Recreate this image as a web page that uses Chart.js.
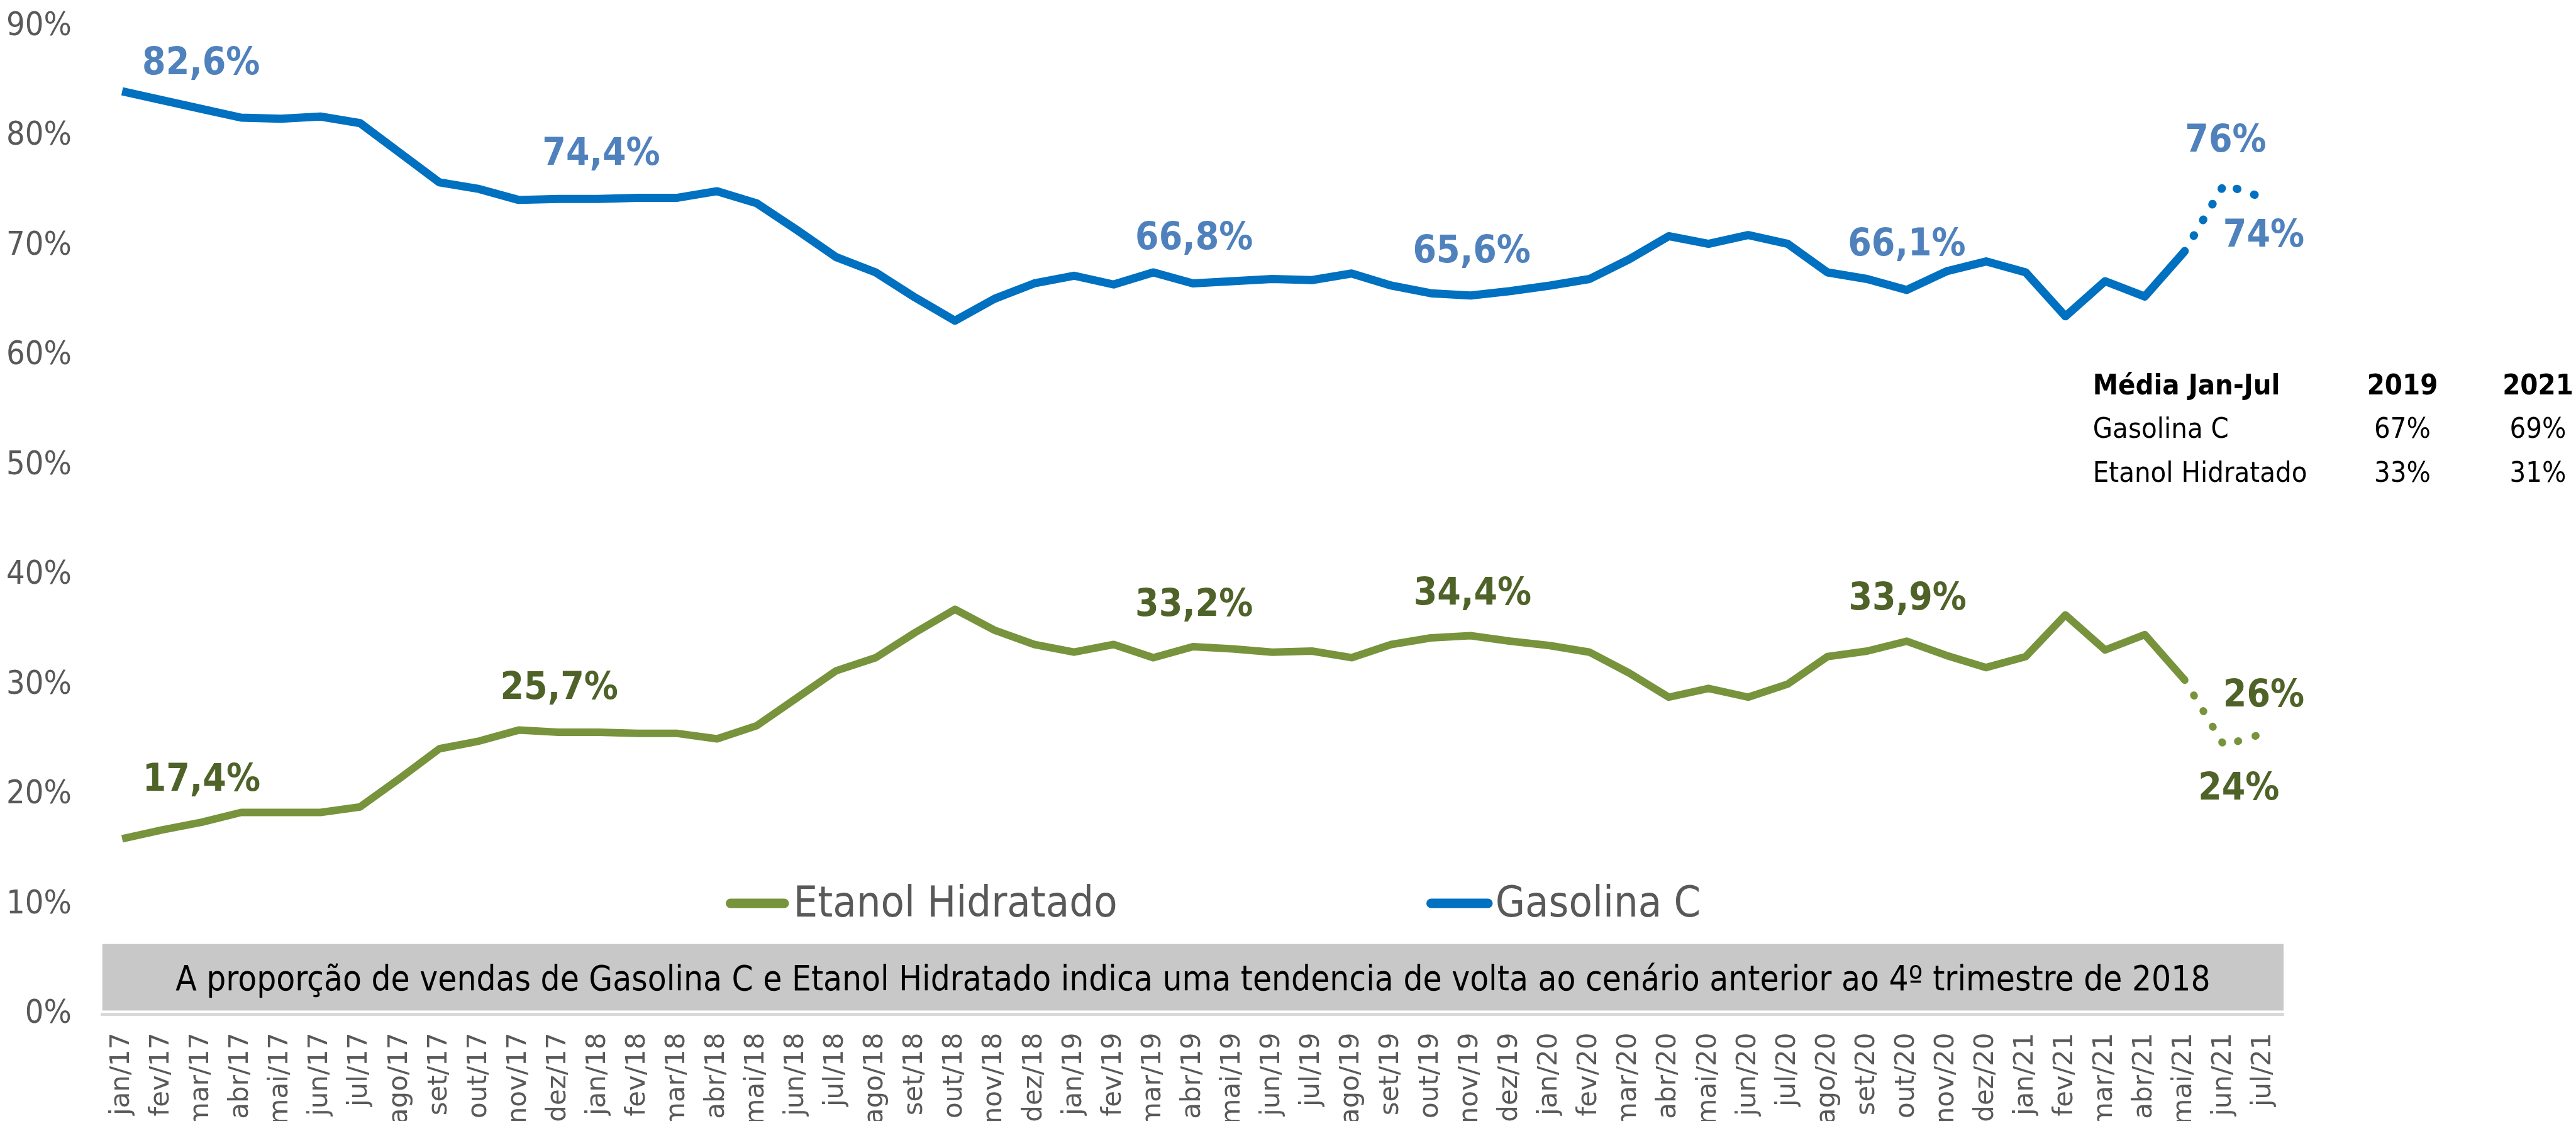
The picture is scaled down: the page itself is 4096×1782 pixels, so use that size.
<!DOCTYPE html>
<html lang="pt-BR">
<head>
<meta charset="utf-8">
<title>Gasolina C x Etanol Hidratado</title>
<script src="https://cdn.jsdelivr.net/npm/chart.js@4.4.1/dist/chart.umd.min.js"></script>
<style>
  html, body { margin: 0; padding: 0; background: #fff; overflow: hidden; }
  #grafico { display: block; }
</style>
</head>
<body>
<canvas id="grafico" width="4096" height="1782"></canvas>
<script>
// dados (participação nas vendas, %)
const meses = [
  'jan/17', 'fev/17', 'mar/17', 'abr/17', 'mai/17', 'jun/17', 'jul/17', 'ago/17', 'set/17', 'out/17', 'nov/17', 'dez/17',
  'jan/18', 'fev/18', 'mar/18', 'abr/18', 'mai/18', 'jun/18', 'jul/18', 'ago/18', 'set/18', 'out/18', 'nov/18', 'dez/18',
  'jan/19', 'fev/19', 'mar/19', 'abr/19', 'mai/19', 'jun/19', 'jul/19', 'ago/19', 'set/19', 'out/19', 'nov/19', 'dez/19',
  'jan/20', 'fev/20', 'mar/20', 'abr/20', 'mai/20', 'jun/20', 'jul/20', 'ago/20', 'set/20', 'out/20', 'nov/20', 'dez/20',
  'jan/21', 'fev/21', 'mar/21', 'abr/21', 'mai/21', 'jun/21', 'jul/21'
];
const gasolina = [
  84.1, 83.3, 82.5, 81.7, 81.6, 81.8, 81.2, 78.5, 75.8, 75.2, 74.2, 74.3,
  74.3, 74.4, 74.4, 75.0, 73.9, 71.5, 69.0, 67.6, 65.3, 63.2, 65.2, 66.6,
  67.3, 66.5, 67.6, 66.6, 66.8, 67.0, 66.9, 67.5, 66.4, 65.7, 65.5, 65.9,
  66.4, 67.0, 68.8, 70.9, 70.2, 71.0, 70.2, 67.6, 67.0, 66.0, 67.7, 68.6,
  67.6, 63.6, 66.8, 65.4, 69.5, 75.6, 74.4
];
const etanol = [
  16.0, 16.8, 17.5, 18.4, 18.4, 18.4, 18.9, 21.5, 24.2, 24.9, 25.9, 25.7,
  25.7, 25.6, 25.6, 25.1, 26.3, 28.8, 31.3, 32.5, 34.8, 36.9, 35.0, 33.7,
  33.0, 33.7, 32.5, 33.5, 33.3, 33.0, 33.1, 32.5, 33.7, 34.3, 34.5, 34.0,
  33.6, 33.0, 31.1, 28.9, 29.7, 28.9, 30.1, 32.6, 33.1, 34.0, 32.7, 31.6,
  32.6, 36.4, 33.2, 34.6, 30.5, 24.5, 25.6
];
const inicioProjecao = 52; // a partir de mai/21 a linha fica pontilhada

const rotulosGas = ['82,6%', '74,4%', '66,8%', '65,6%', '66,1%', '76%', '74%'];
const rotulosEta = ['17,4%', '25,7%', '33,2%', '34,4%', '33,9%', '26%', '24%'];

const tabelaTitulo = 'Média Jan-Jul';
const tabelaAnos = ['2019', '2021'];
const tabelaLinhas = ['Gasolina C', 'Etanol Hidratado'];
const media2019 = ['67%', '33%'];
const media2021 = ['69%', '31%'];

const nota = 'A proporção de vendas de Gasolina C e Etanol Hidratado indica uma tendencia de volta ao cenário anterior ao 4º trimestre de 2018';

// onde cada rótulo fica (índice do mês, valor no eixo)
const ancoraGas = [[1.99, 86.9], [12.08, 78.65], [27.03, 71.0], [34.03, 69.8], [45.0, 70.4], [53.04, 79.85], [54.0, 71.2]];
const ancoraEta = [[2.0, 21.6], [11.02, 30.0], [27.03, 37.55], [34.05, 38.6], [45.02, 38.15], [54.0, 29.3], [53.37, 20.8]];

const NARROW = "'Liberation Sans Narrow', 'Arial Narrow', 'DejaVu Sans Condensed', sans-serif";
const COND = "'DejaVu Sans Condensed', 'DejaVu Sans', sans-serif";
const AZUL = '#0070C0', VERDE = '#77933C';
const CINZA = '#595959';

function pontilhado() {
  return {
    borderDash: ctx => ctx.p0DataIndex >= inicioProjecao ? [1, 28] : undefined,
    borderCapStyle: ctx => ctx.p0DataIndex >= inicioProjecao ? 'round' : 'butt'
  };
}

const rotulos = {
  id: 'rotulos',
  afterDatasetsDraw(chart) {
    const { ctx, scales: { x, y } } = chart;
    const tam = 60;
    ctx.save();
    ctx.font = `bold ${tam}px ${COND}`;
    ctx.textAlign = 'center';
    ctx.textBaseline = 'alphabetic';
    const meio = tam * 0.729 / 2;
    ctx.fillStyle = '#4F81BD';
    rotulosGas.forEach((t, i) => {
      ctx.fillText(t, x.getPixelForValue(ancoraGas[i][0]), y.getPixelForValue(ancoraGas[i][1]) + meio);
    });
    ctx.fillStyle = '#4F6228';
    rotulosEta.forEach((t, i) => {
      ctx.fillText(t, x.getPixelForValue(ancoraEta[i][0]), y.getPixelForValue(ancoraEta[i][1]) + meio);
    });
    ctx.restore();
  }
};

const extras = {
  id: 'extras',
  afterDraw(chart) {
    const { ctx, chartArea: area } = chart;
    ctx.save();

    // caixa cinza com a nota
    ctx.fillStyle = '#C8C8C8';
    ctx.fillRect(area.left, 1500.6, area.right - area.left, 105.8);
    ctx.font = `40px ${NARROW}`;
    const w = ctx.measureText(nota).width;
    ctx.font = `${40 * 3236 / w}px ${NARROW}`;
    ctx.fillStyle = '#000';
    ctx.textAlign = 'center';
    ctx.textBaseline = 'alphabetic';
    ctx.fillText(nota, (area.left + area.right) / 2, 1574.3);

    // legenda
    const itens = [
      { ds: chart.data.datasets[1], x0: 1154.5, x1: 1254, tx: 1261.6 },
      { ds: chart.data.datasets[0], x0: 2268.5, x1: 2373, tx: 2377.7 }
    ];
    ctx.font = `68px ${COND}`;
    ctx.textAlign = 'left';
    itens.forEach(it => {
      ctx.strokeStyle = it.ds.borderColor;
      ctx.lineWidth = 15;
      ctx.lineCap = 'round';
      ctx.beginPath();
      ctx.moveTo(it.x0 + 7, 1436);
      ctx.lineTo(it.x1 - 7, 1436);
      ctx.stroke();
      ctx.fillStyle = CINZA;
      ctx.fillText(it.ds.label, it.tx, 1432 + 68 * 0.729 / 2);
    });

    // tabela de médias
    ctx.fillStyle = '#000';
    ctx.font = `bold 45px ${COND}`;
    ctx.textAlign = 'left';
    ctx.fillText(tabelaTitulo, 3327.7, 626.9);
    ctx.textAlign = 'center';
    ctx.fillText(tabelaAnos[0], 3820, 626.9);
    ctx.fillText(tabelaAnos[1], 4035.5, 626.9);
    ctx.font = `45px ${COND}`;
    const linhasY = [695.8, 765.8];
    tabelaLinhas.forEach((nome, i) => {
      ctx.textAlign = 'left';
      ctx.fillText(nome, 3327.7, linhasY[i]);
      ctx.textAlign = 'center';
      ctx.fillText(media2019[i], 3820, linhasY[i]);
      ctx.fillText(media2021[i], 4035.5, linhasY[i]);
    });

    ctx.restore();
  }
};

new Chart(document.getElementById('grafico'), {
  type: 'line',
  data: {
    labels: meses,
    datasets: [
      {
        label: 'Gasolina C',
        data: gasolina,
        borderColor: AZUL,
        borderWidth: 13,
        pointRadius: 0,
        tension: 0,
        borderJoinStyle: 'round',
        segment: pontilhado()
      },
      {
        label: 'Etanol Hidratado',
        data: etanol,
        borderColor: VERDE,
        borderWidth: 12,
        pointRadius: 0,
        tension: 0,
        borderJoinStyle: 'round',
        segment: pontilhado()
      }
    ]
  },
  options: {
    responsive: false,
    devicePixelRatio: 1,
    animation: false,
    layout: { padding: { top: 42.2, right: 465, left: 0, bottom: 0 } },
    plugins: {
      legend: { display: false },
      tooltip: { enabled: false }
    },
    scales: {
      x: {
        offset: true,
        grid: { display: false, drawTicks: false },
        border: { display: true, color: '#D9D9D9', width: 5 },
        ticks: {
          autoSkip: false,
          maxRotation: 90,
          minRotation: 90,
          padding: 29,
          color: CINZA,
          font: { family: "'DejaVu Sans', sans-serif", size: 42 }
        },
        afterFit(scale) {
          scale.height = 169.5;
          scale.paddingLeft = 0;
          scale.paddingRight = 0;
        }
      },
      y: {
        min: 0,
        max: 90,
        grid: { display: false, drawTicks: false },
        border: { display: false },
        ticks: {
          stepSize: 10,
          padding: 48.7,
          color: CINZA,
          font: { family: NARROW, size: 52 },
          callback: v => v + '%'
        },
        afterFit(scale) {
          scale.width = 162.7;
          scale.paddingTop = 0;
          scale.paddingBottom = 0;
        }
      }
    }
  },
  plugins: [rotulos, extras]
});
</script>
</body>
</html>
